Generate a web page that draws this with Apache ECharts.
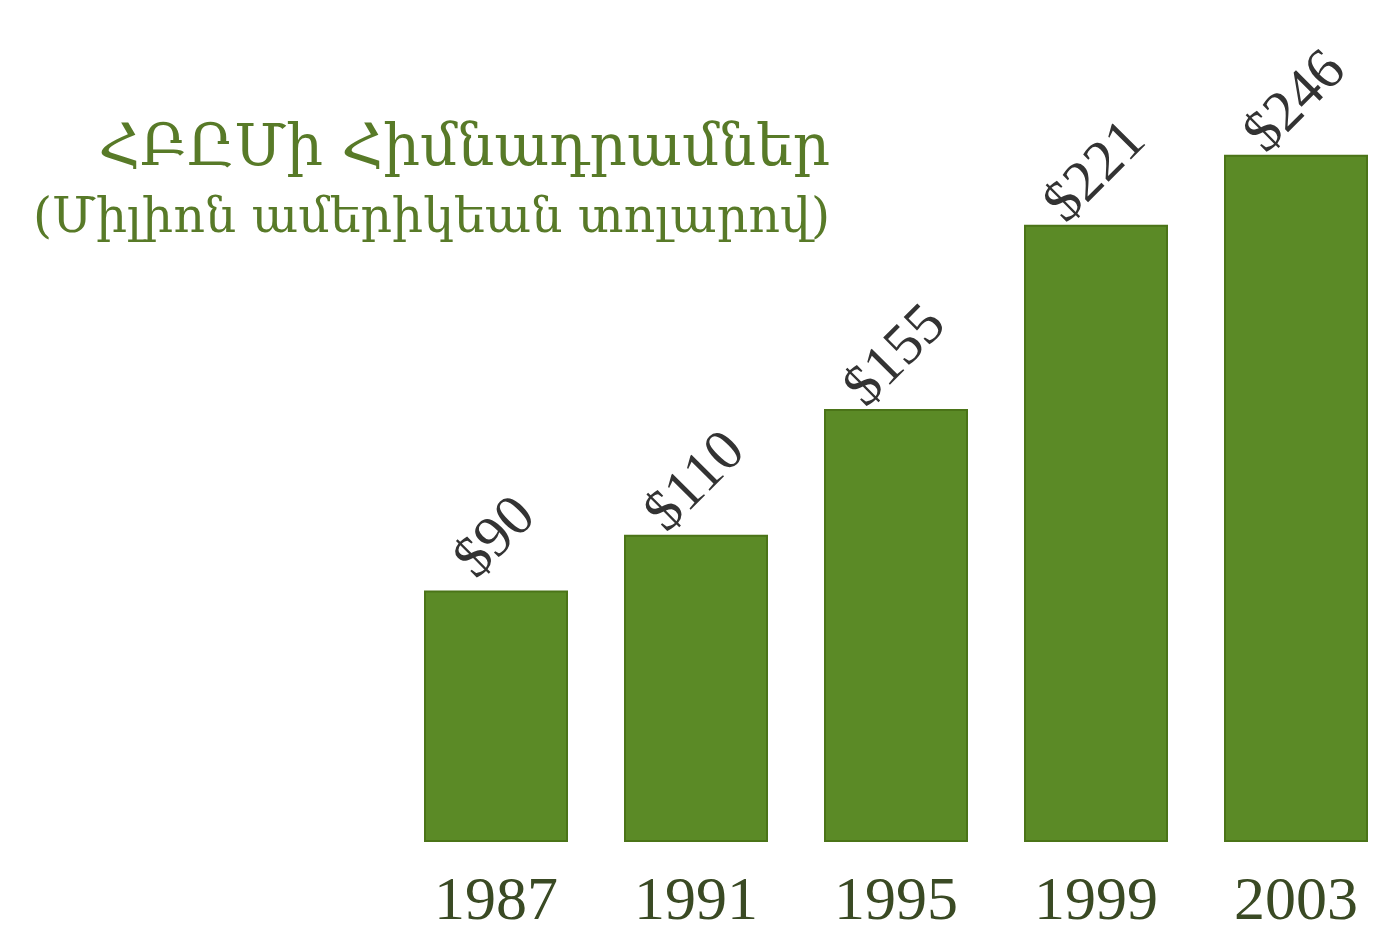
<!DOCTYPE html>
<html>
<head>
<meta charset="utf-8">
<title>ՀԲԸՄի Հիմնադրամներ</title>
<script src="https://cdn.jsdelivr.net/npm/echarts@6/dist/echarts.min.js"></script>
<style>
  html, body { margin: 0; padding: 0; background: #fff; }
  #chart { width: 1396px; height: 947px; }
</style>
</head>
<body>
<div id="chart"></div>
<script>
// տարիներ եւ գումարներ (միլիոն դոլար)
var years = ['1987', '1991', '1995', '1999', '2003'];
var funds = [90, 110, 155, 221, 246];
var titleMain = 'ՀԲԸՄի Հիմնադրամներ';
var titleSub = '(Միլիոն ամերիկեան տոլարով)';

var myChart = echarts.init(document.getElementById('chart'));

var option = {
  backgroundColor: '#ffffff',
  animation: false,
  title: [{
    text: titleMain,
    right: 561,
    top: 116,
    textStyle: {
      fontFamily: 'DejaVu Serif',
      fontWeight: 'normal',
      fontSize: 58,
      color: '#587a28'
    }
  }, {
    text: titleSub,
    right: 561,
    top: 190,
    textStyle: {
      fontFamily: 'DejaVu Serif',
      fontWeight: 'normal',
      fontSize: 49,
      color: '#587a28'
    }
  }],
  grid: {
    left: 396,
    width: 1008,
    top: 4,
    bottom: 105
  },
  xAxis: {
    type: 'category',
    data: years,
    axisLine: { show: false },
    axisTick: { show: false },
    axisLabel: {
      margin: 30,
      fontFamily: 'Liberation Serif',
      fontSize: 62,
      color: '#3a4a24'
    }
  },
  yAxis: {
    type: 'value',
    min: 0,
    max: 300,
    show: false,
    splitLine: { show: false }
  },
  series: [{
    type: 'bar',
    data: funds,
    barWidth: 144,
    itemStyle: {
      color: '#5b8a26',
      borderColor: '#4b7418',
      borderWidth: 2
    },
    label: {
      show: true,
      position: 'top',
      distance: 52,
      rotate: 45,
      align: 'center',
      verticalAlign: 'middle',
      fontFamily: 'Liberation Serif',
      fontSize: 58,
      color: '#333333',
      formatter: function (p) {
        return '$' + p.value;
      }
    }
  }]
};

myChart.setOption(option);
</script>
</body>
</html>
